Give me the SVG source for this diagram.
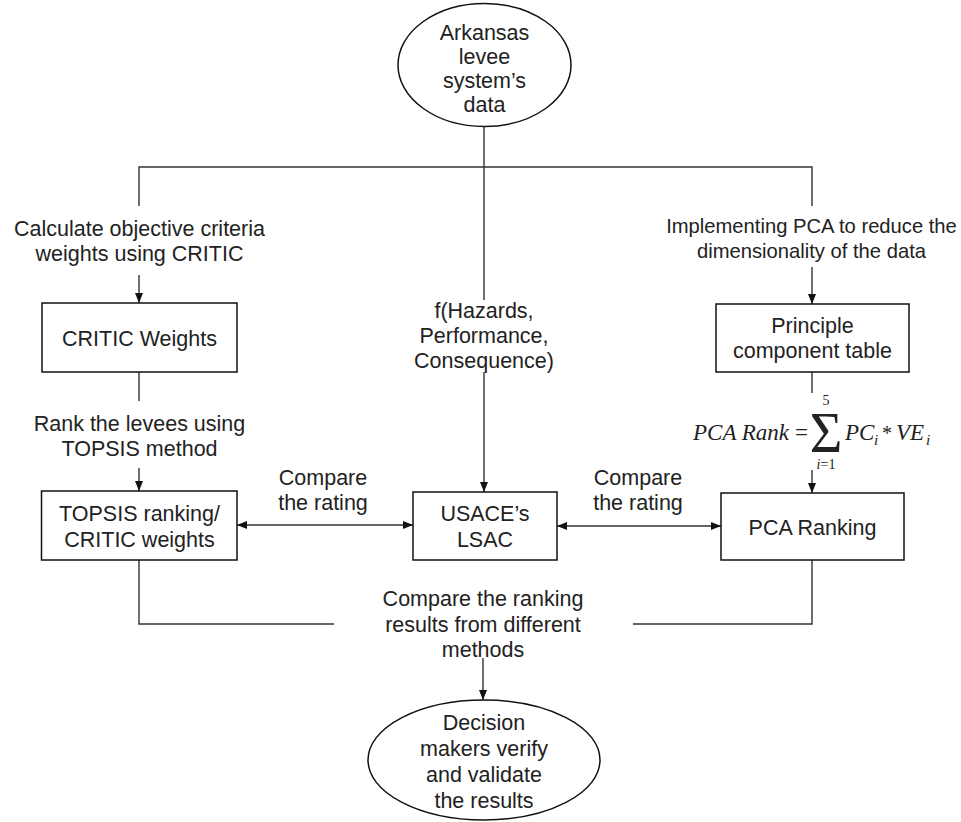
<svg xmlns="http://www.w3.org/2000/svg" width="961" height="822" viewBox="0 0 961 822">
<style>
.n{fill:#fff;stroke:#111;stroke-width:1.5}
.t{font-family:"Liberation Sans",Arial,sans-serif;font-size:21.5px;fill:#222;text-anchor:middle}
.c{fill:none;stroke:#333;stroke-width:1.4}
.m{font-family:"Liberation Serif","Times New Roman",serif;fill:#222}
.mi{font-style:italic;font-size:23px}
.ms{font-style:italic;font-size:15px}
</style>
<defs>
<marker id="ah" markerUnits="userSpaceOnUse" markerWidth="10" markerHeight="10" viewBox="0 0 10 10" refX="10" refY="5" orient="auto-start-reverse">
<path d="M0,1 L10,5 L0,9 Z" fill="#111"/>
</marker>
</defs>
<rect width="961" height="822" fill="#fff"/>
<g id="connectors">
<path class="c" d="M484,127 V300"/>
<path class="c" d="M484,372 V492" marker-end="url(#ah)"/>
<path class="c" d="M139,206 V167 H812 V206"/>
<path class="c" d="M139,275 V303" marker-end="url(#ah)"/>
<path class="c" d="M139,372 V401"/>
<path class="c" d="M139,468 V491" marker-end="url(#ah)"/>
<path class="c" d="M237,525 H413" marker-start="url(#ah)" marker-end="url(#ah)"/>
<path class="c" d="M557,526 H721" marker-start="url(#ah)" marker-end="url(#ah)"/>
<path class="c" d="M812,267 V304" marker-end="url(#ah)"/>
<path class="c" d="M812,372 V393"/>
<path class="c" d="M812,470 V493" marker-end="url(#ah)"/>
<path class="c" d="M139,560 V624 H334"/>
<path class="c" d="M812,560 V624 H633"/>
<path class="c" d="M483,658 V700" marker-end="url(#ah)"/>
</g>
<g id="labels">
<text class="t"><tspan x="139.5" y="235.5">Calculate objective criteria</tspan><tspan x="139.5" y="260.5">weights using CRITIC</tspan></text>
<text class="t"><tspan x="484" y="317.5">f(Hazards,</tspan><tspan x="484" y="342.5">Performance,</tspan><tspan x="484" y="367.5">Consequence)</tspan></text>
<text class="t" style="font-size:20.2px"><tspan x="811.5" y="232.5">Implementing PCA to reduce the</tspan><tspan x="811.5" y="257.5">dimensionality of the data</tspan></text>
<text class="t"><tspan x="139.5" y="430.5">Rank the levees using</tspan><tspan x="139.5" y="455.5">TOPSIS method</tspan></text>
<text class="t"><tspan x="323" y="484.5">Compare</tspan><tspan x="323" y="510">the rating</tspan></text>
<text class="t"><tspan x="638" y="484.5">Compare</tspan><tspan x="638" y="510">the rating</tspan></text>
<text class="t"><tspan x="483" y="605.5">Compare the ranking</tspan><tspan x="483" y="631.5">results from different</tspan><tspan x="483" y="656.5">methods</tspan></text>
<g id="formula" class="m">
<text class="mi" x="693" y="440">PCA Rank</text>
<text x="795" y="440" font-size="23">=</text>
<text x="826" y="452" font-size="56" text-anchor="middle">Σ</text>
<text x="826" y="405" font-size="14" text-anchor="middle">5</text>
<text x="826" y="469" font-size="14" text-anchor="middle"><tspan font-style="italic">i</tspan>=1</text>
<text class="mi" x="845" y="440">PC</text>
<text class="ms" x="874" y="445">i</text>
<text x="882" y="440" font-size="20">*</text>
<text class="mi" x="896" y="440">VE</text>
<text class="ms" x="926" y="445">i</text>
</g>
</g>
<g id="n-data">
<ellipse class="n" cx="484.5" cy="65" rx="86.5" ry="61.5"/>
<text class="t"><tspan x="484.5" y="39.5">Arkansas</tspan><tspan x="484.5" y="63.5">levee</tspan><tspan x="484.5" y="87.5">system’s</tspan><tspan x="484.5" y="111.5">data</tspan></text>
</g>
<g id="n-critic">
<rect class="n" x="42" y="303" width="195" height="69"/>
<text class="t" x="139.5" y="345.5">CRITIC Weights</text>
</g>
<g id="n-topsis">
<rect class="n" x="41.5" y="491" width="195.5" height="69"/>
<text class="t"><tspan x="139.5" y="521">TOPSIS ranking/</tspan><tspan x="139.5" y="547">CRITIC weights</tspan></text>
</g>
<g id="n-usace">
<rect class="n" x="413" y="492" width="144" height="68"/>
<text class="t"><tspan x="485" y="521">USACE’s</tspan><tspan x="485" y="547">LSAC</tspan></text>
</g>
<g id="n-principle">
<rect class="n" x="716" y="304" width="193" height="68"/>
<text class="t"><tspan x="812.5" y="332.5">Principle</tspan><tspan x="812.5" y="357.5">component table</tspan></text>
</g>
<g id="n-pca">
<rect class="n" x="721" y="493" width="183" height="67"/>
<text class="t" x="812.5" y="534.5">PCA Ranking</text>
</g>
<g id="n-decision">
<ellipse class="n" cx="484" cy="760" rx="116" ry="60"/>
<text class="t"><tspan x="484" y="729.5">Decision</tspan><tspan x="484" y="755.5">makers verify</tspan><tspan x="484" y="781.5">and validate</tspan><tspan x="484" y="807.5">the results</tspan></text>
</g>
</svg>
